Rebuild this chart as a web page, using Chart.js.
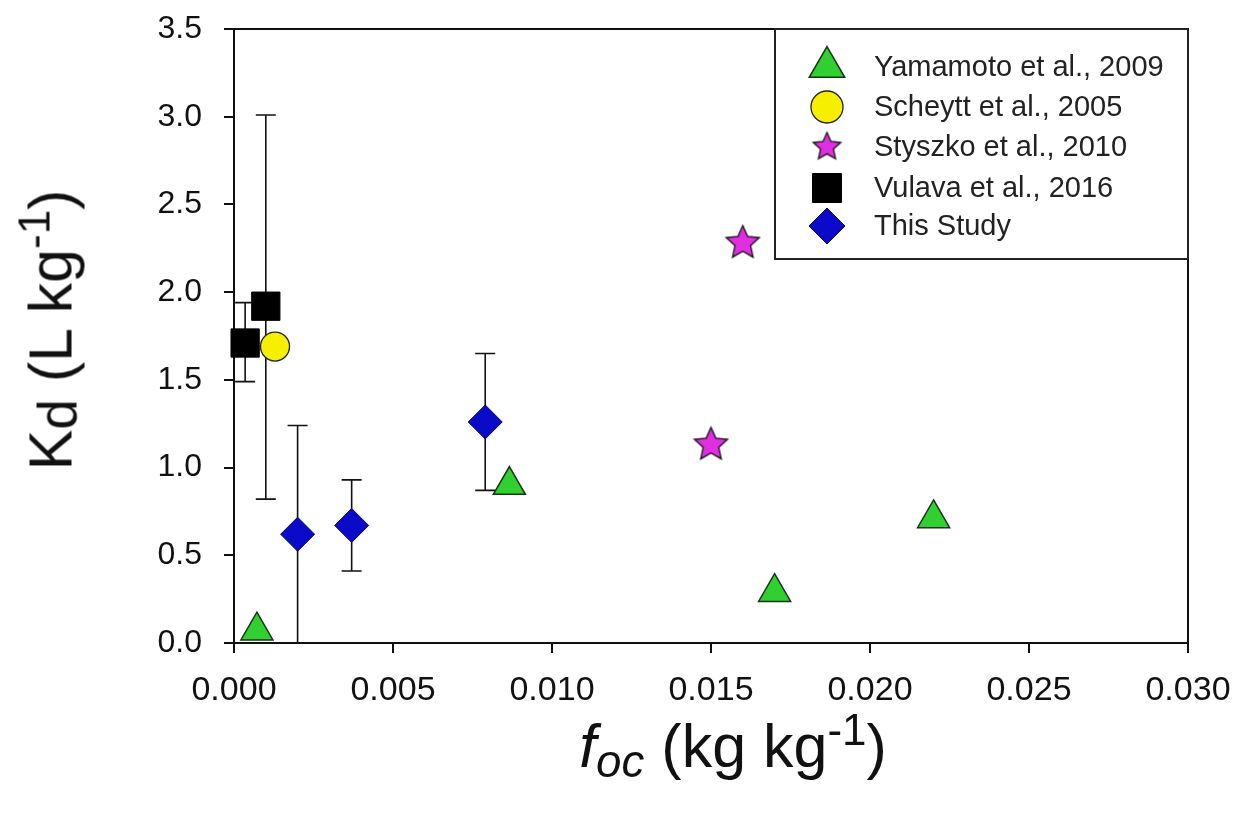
<!DOCTYPE html>
<html>
<head>
<meta charset="utf-8">
<script src="https://cdn.jsdelivr.net/npm/chart.js@4/dist/chart.umd.min.js"></script>
<style>
  html, body { margin: 0; padding: 0; background: #fff; }
  #wrap { position: relative; width: 1241px; height: 817px; font-family: 'Liberation Sans', Arial, sans-serif; color: #111; }
  #chart { position: absolute; left: 0; top: 0; }
  .axis-title { position: absolute; white-space: nowrap; line-height: 1; }
  .axis-title span { position: relative; }
  #ytitle { font-size: 61px; left: 51px; top: 330px; transform: translate(-50%, -50%) rotate(-90deg); }
  #xtitle { font-size: 61px; left: 733px; top: 716px; transform: translateX(-50%); }
</style>
</head>
<body>
<div id="wrap">
  <canvas id="chart" width="1241" height="817"></canvas>
  <div id="ytitle" class="axis-title">K<span style="font-size:0.9em;top:0.1em">d</span> (L kg<span style="font-size:0.72em;top:-0.5em">-1</span>)</div>
  <div id="xtitle" class="axis-title"><i>f</i><span style="font-size:0.75em;top:0.22em"><i>oc</i></span> (kg kg<span style="font-size:0.72em;top:-0.5em">-1</span>)</div>
</div>
<script>
// values
const yamamotoX = [0.00072, 0.00866, 0.0170, 0.0220];
const yamamotoY = [0.07, 0.90, 0.29, 0.71];

const scheyttX = [0.00129];
const scheyttY = [1.69];

const styszkoX = [0.0150, 0.0160];
const styszkoY = [1.13, 2.28];

const vulavaX = [0.00035, 0.0010];
const vulavaY = [1.71, 1.92];
const vulavaHi = [1.94, 3.01];
const vulavaLo = [1.49, 0.82];

const studyX = [0.0020, 0.0037, 0.0079];
const studyY = [0.62, 0.67, 1.26];
const studyHi = [1.24, 0.93, 1.65];
const studyLo = [0.00, 0.41, 0.87];

const legendLabels = ['Yamamoto et al., 2009', 'Scheytt et al., 2005', 'Styszko et al., 2010', 'Vulava et al., 2016', 'This Study'];

const xTickValues = [0, 0.005, 0.010, 0.015, 0.020, 0.025, 0.030];
const xTickLabels = ['0.000', '0.005', '0.010', '0.015', '0.020', '0.025', '0.030'];
const yTickValues = [0, 0.5, 1.0, 1.5, 2.0, 2.5, 3.0, 3.5];
const yTickLabels = ['0.0', '0.5', '1.0', '1.5', '2.0', '2.5', '3.0', '3.5'];

const FONT = "'Liberation Sans', Arial, sans-serif";

function makeStar(R, fill, stroke) {
  const c = document.createElement('canvas');
  const s = Math.ceil(R * 2 + 4);
  c.width = s; c.height = s;
  const g = c.getContext('2d');
  const cx = s / 2, cy = s / 2, r = R * 0.47;
  g.beginPath();
  for (let i = 0; i < 10; i++) {
    const a = -Math.PI / 2 + i * Math.PI / 5;
    const rr = i % 2 === 0 ? R : r;
    const px = cx + Math.cos(a) * rr, py = cy + Math.sin(a) * rr;
    if (i === 0) g.moveTo(px, py); else g.lineTo(px, py);
  }
  g.closePath();
  g.fillStyle = fill;
  g.fill();
  g.lineWidth = 1.3;
  g.strokeStyle = stroke;
  g.stroke();
  return c;
}

const GREEN = '#2fd02f', YELLOW = '#f7ef00', MAGENTA = '#e02fe0', BLACK = '#000000', BLUE = '#0a0ac8';
const starPlot = makeStar(17.5, MAGENTA, '#111');
const starLegend = makeStar(14.5, MAGENTA, '#111');

const pts = (xs, ys) => xs.map((x, i) => ({ x, y: ys[i] }));

const datasets = [
  { label: legendLabels[0], data: pts(yamamotoX, yamamotoY), pointStyle: 'triangle', pointRadius: 18.5,
    backgroundColor: GREEN, borderColor: '#173317', borderWidth: 1.5, order: 3 },
  { label: legendLabels[1], data: pts(scheyttX, scheyttY), pointStyle: 'circle', pointRadius: 14.5,
    backgroundColor: YELLOW, borderColor: '#222', borderWidth: 1.3, order: 2 },
  { label: legendLabels[2], data: pts(styszkoX, styszkoY), pointStyle: starPlot, pointRadius: 17.5,
    backgroundColor: MAGENTA, borderColor: '#111', borderWidth: 1, order: 3 },
  { label: legendLabels[3], data: pts(vulavaX, vulavaY), pointStyle: 'rect', pointRadius: 20,
    backgroundColor: BLACK, borderColor: BLACK, borderWidth: 1, errHi: vulavaHi, errLo: vulavaLo, order: 1 },
  { label: legendLabels[4], data: pts(studyX, studyY), pointStyle: 'rectRot', pointRadius: 17,
    backgroundColor: BLUE, borderColor: '#06066a', borderWidth: 1, errHi: studyHi, errLo: studyLo, order: 0 },
];

const errorBars = {
  id: 'errorBars',
  beforeDatasetsDraw(chart) {
    const { ctx, scales: { x, y } } = chart;
    ctx.save();
    ctx.strokeStyle = '#111';
    ctx.lineWidth = 1.6;
    chart.data.datasets.forEach(ds => {
      if (!ds.errHi) return;
      ds.data.forEach((p, i) => {
        const px = x.getPixelForValue(p.x);
        const top = y.getPixelForValue(ds.errHi[i]);
        const bot = y.getPixelForValue(ds.errLo[i]);
        ctx.beginPath();
        ctx.moveTo(px, top); ctx.lineTo(px, bot);
        ctx.moveTo(px - 10, top); ctx.lineTo(px + 10, top);
        ctx.moveTo(px - 10, bot); ctx.lineTo(px + 10, bot);
        ctx.stroke();
      });
    });
    ctx.restore();
  }
};

const frame = {
  id: 'frame',
  beforeDatasetsDraw(chart) {
    const { ctx, chartArea: a } = chart;
    ctx.save();
    ctx.strokeStyle = '#111';
    ctx.lineWidth = 2;
    ctx.strokeRect(a.left, a.top, a.right - a.left, a.bottom - a.top);
    ctx.restore();
  }
};

const legendBox = {
  id: 'legendBox',
  afterDraw(chart) {
    const { ctx, chartArea: a } = chart;
    const left = 775, top = a.top, right = a.right, bottom = 259;
    ctx.save();
    ctx.fillStyle = '#fff';
    ctx.fillRect(left, top, right - left, bottom - top);
    ctx.strokeStyle = '#222';
    ctx.lineWidth = 2;
    ctx.strokeRect(left, top, right - left, bottom - top);
    const rowY = [67, 107, 147, 188, 226];
    const sizes = [20.5, 16, 14.5, 20.5, 18];
    chart.data.datasets.forEach((ds, i) => {
      const style = i === 2 ? starLegend : ds.pointStyle;
      ctx.fillStyle = ds.backgroundColor;
      ctx.strokeStyle = ds.borderColor;
      ctx.lineWidth = ds.borderWidth;
      Chart.helpers.drawPoint(ctx, { pointStyle: style, radius: sizes[i], rotation: 0, borderWidth: ds.borderWidth }, 827, rowY[i]);
      ctx.fillStyle = '#222';
      ctx.font = `29px ${FONT}`;
      ctx.textBaseline = 'middle';
      ctx.textAlign = 'left';
      ctx.fillText(ds.label, 874, rowY[i] + 1);
    });
    ctx.restore();
  }
};

new Chart(document.getElementById('chart'), {
  type: 'scatter',
  data: { datasets },
  plugins: [errorBars, frame, legendBox],
  options: {
    responsive: false,
    animation: false,
    events: [],
    clip: false,
    layout: { autoPadding: false, padding: { top: 29, right: 53, left: 0, bottom: 0 } },
    plugins: { legend: { display: false }, tooltip: { enabled: false } },
    scales: {
      x: {
        type: 'linear', min: 0, max: 0.030,
        afterFit(s) { s.height = 174; s.paddingLeft = 0; s.paddingRight = 0; },
        afterBuildTicks(s) { s.ticks = xTickValues.map(v => ({ value: v })); },
        border: { display: false },
        grid: { drawOnChartArea: false, drawTicks: true, tickLength: 10, color: '#111', lineWidth: 2 },
        ticks: {
          padding: 17, color: '#111', maxRotation: 0, autoSkip: false,
          font: { family: FONT, size: 34 },
          callback: (v, i) => xTickLabels[i]
        }
      },
      y: {
        type: 'linear', min: 0, max: 3.5,
        afterFit(s) { s.width = 234; s.paddingTop = 0; s.paddingBottom = 0; },
        afterBuildTicks(s) { s.ticks = yTickValues.map(v => ({ value: v })); },
        border: { display: false },
        grid: { drawOnChartArea: false, drawTicks: true, tickLength: 10, color: '#111', lineWidth: 2 },
        ticks: {
          padding: 22, color: '#111', autoSkip: false,
          font: { family: FONT, size: 32 },
          callback: (v, i) => yTickLabels[i]
        }
      }
    }
  }
});
</script>
</body>
</html>
